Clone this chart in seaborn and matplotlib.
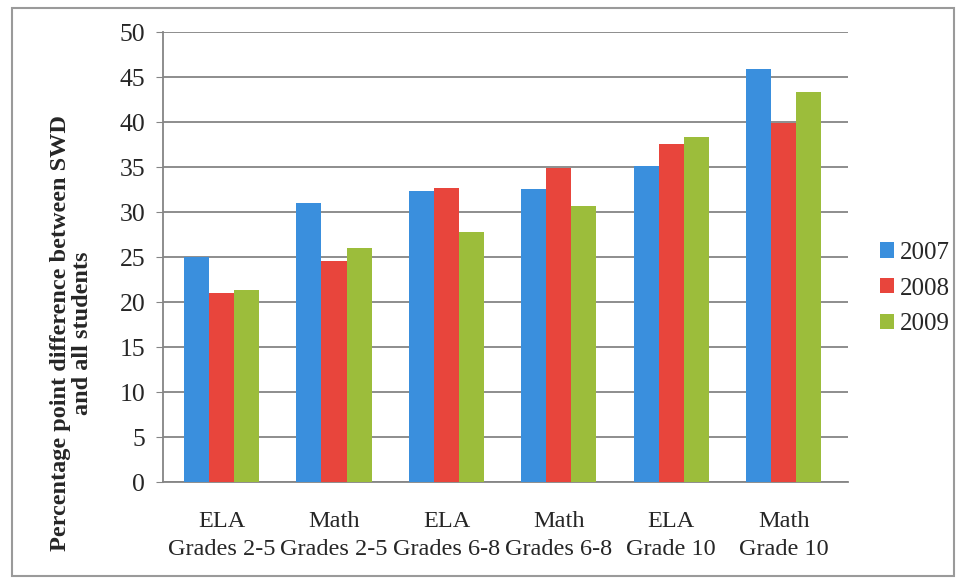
import pandas as pd
import seaborn as sns
import matplotlib.pyplot as plt
from matplotlib.patches import Rectangle

# Valores
categorias = ['ELA\nGrades 2-5', 'Math\nGrades 2-5', 'ELA\nGrades 6-8',
              'Math\nGrades 6-8', 'ELA\nGrade 10', 'Math\nGrade 10']
anios = ['2007', '2008', '2009']
v2007 = [25.0, 31.0, 32.3, 32.6, 35.1, 45.9]
v2008 = [21.0, 24.6, 32.7, 34.9, 37.6, 39.9]
v2009 = [21.3, 26.0, 27.8, 30.7, 38.3, 43.3]
colores = ['#3A8FDD', '#E8453C', '#9CBD3B']

data = pd.DataFrame({
    'categoria': categorias * 3,
    'anio': [a for a in anios for _ in categorias],
    'valor': v2007 + v2008 + v2009,
})

sns.set_style('white')
plt.rcParams['font.family'] = ['Liberation Serif', 'DejaVu Serif']

fig = plt.figure(figsize=(9.6, 5.83), dpi=100)
ax = fig.add_axes([0.170, 0.173, 0.713, 0.772])

sns.barplot(x='categoria', y='valor', hue='anio', data=data, palette=colores,
            width=0.67, gap=0, saturation=1, linewidth=0, ax=ax, zorder=3)

ax.set_ylim(0, 50)
ax.set_yticks(range(0, 51, 5))
ax.set_xlim(-0.52, 5.57)
ax.yaxis.grid(True, color='#858585', linewidth=1.3, zorder=0)
ax.set_axisbelow(True)
for s in ['top', 'right']:
    ax.spines[s].set_visible(False)
for s in ['left', 'bottom']:
    ax.spines[s].set_color('#858585')
    ax.spines[s].set_linewidth(1.3)
ax.tick_params(axis='y', left=True, length=5, color='#858585', labelsize=18.5, pad=8)
ax.tick_params(axis='x', bottom=False, labelsize=17.5, pad=17)
for t in ax.get_xticklabels():
    t.set_linespacing(1.45)

ax.set_xlabel('')
ax.set_ylabel('Percentage point difference between SWD\nand all students',
              fontsize=17.5, fontweight='bold', linespacing=1.1)
ax.yaxis.set_label_coords(-0.102, 0.331)

ax.legend(loc='center left', bbox_to_anchor=(0.893, 0.505),
          bbox_transform=fig.transFigure, frameon=False, fontsize=18,
          handlelength=0.55, handleheight=0.55, handletextpad=0.25, labelspacing=0.55)

fig.patches.append(Rectangle((0.012, 0.012), 0.982, 0.975, transform=fig.transFigure,
                             fill=False, edgecolor='#9a9a9a', linewidth=1.5))

fig.savefig('out.png', dpi=100)
